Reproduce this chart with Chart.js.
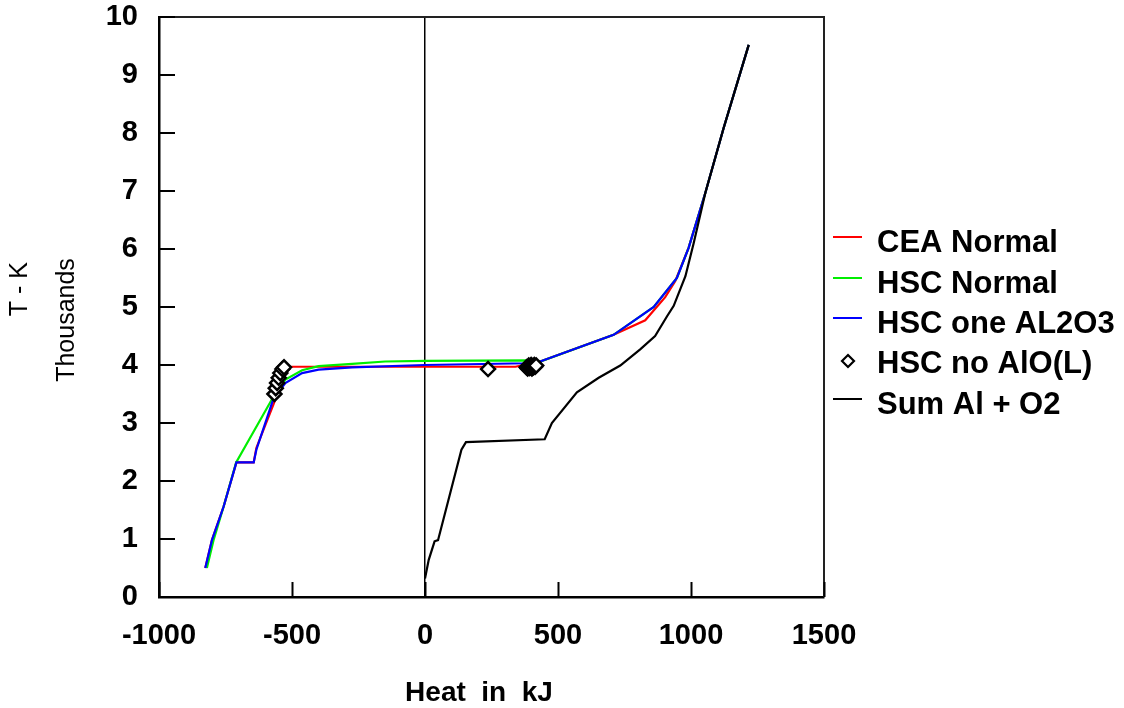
<!DOCTYPE html>
<html>
<head>
<meta charset="utf-8">
<script src="https://cdn.jsdelivr.net/npm/chart.js@4/dist/chart.umd.min.js"></script>
<style>
  html, body { margin: 0; padding: 0; background: #fff; }
  #wrap { width: 1124px; height: 708px; }
</style>
</head>
<body>
<div id="wrap"><canvas id="c" width="1124" height="708"></canvas></div>
<script>
// Heat (kJ) vs temperature (thousands of K) for Al + O2 combustion models
const ceaHeat   = [-826, -801, -757, -709, -644, -634, -563, -531, -521, -500, 340, 433, 709, 828, 903, 941, 991, 1054, 1123, 1217];
const ceaTemp   = [0.5, 0.98, 1.56, 2.32, 2.32, 2.57, 3.40, 3.72, 3.95, 3.97, 3.97, 4.06, 4.52, 4.77, 5.17, 5.45, 6.02, 6.97, 8.09, 9.52];

const hscHeat   = [-820, -795, -757, -710, -569, -525, -462, -400, -274, -150, 0, 390, 433, 709, 860, 947, 991, 1054, 1123, 1217];
const hscTemp   = [0.5, 0.98, 1.56, 2.32, 3.46, 3.75, 3.91, 3.98, 4.02, 4.06, 4.07, 4.08, 4.06, 4.52, 5.0, 5.5, 6.02, 6.97, 8.09, 9.52];

const oneHeat   = [-826, -801, -757, -709, -644, -634, -569, -525, -462, -400, -274, 0, 380, 433, 709, 860, 947, 991, 1054, 1123, 1217];
const oneTemp   = [0.5, 0.98, 1.56, 2.32, 2.32, 2.54, 3.43, 3.69, 3.86, 3.92, 3.96, 4.0, 4.03, 4.06, 4.52, 5.0, 5.5, 6.02, 6.97, 8.09, 9.52];

const noAloHeat = [-566, -561, -556, -550, -544, -536, -530, 237,
                   382, 386, 390, 393, 396, 399, 402, 405, 408, 411, 414, 418];
const noAloTemp = [3.5, 3.6, 3.69, 3.78, 3.86, 3.93, 3.96, 3.93,
                   3.96, 3.94, 3.99, 3.95, 3.97, 4.0, 3.94, 3.98, 3.96, 4.0, 3.97, 3.99];

const sumHeat   = [0, 14, 36, 49, 137, 154, 450, 477, 571, 653, 734, 809, 865, 910, 935, 979, 1010, 1054, 1123, 1217];
const sumTemp   = [0.32, 0.64, 0.96, 0.98, 2.54, 2.67, 2.72, 3.0, 3.53, 3.78, 3.99, 4.27, 4.5, 4.84, 5.02, 5.53, 6.1, 6.97, 8.09, 9.52];

const xTickValues = [-1000, -500, 0, 500, 1000, 1500];
const yTickValues = [0, 1, 2, 3, 4, 5, 6, 7, 8, 9, 10];

const seriesNames = ['CEA Normal', 'HSC Normal', 'HSC one AL2O3', 'HSC no AlO(L)', 'Sum Al + O2'];

function pts(xs, ys) { return xs.map((x, i) => ({ x: x, y: ys[i] })); }

const FONT = '"Liberation Sans", Arial, sans-serif';

const lineDefaults = { showLine: true, pointRadius: 0, borderWidth: 2.2, fill: false, tension: 0 };

const datasets = [
  Object.assign({ label: seriesNames[0], data: pts(ceaHeat, ceaTemp), borderColor: '#ff0000', order: 4, legendIndex: 0 }, lineDefaults),
  Object.assign({ label: seriesNames[1], data: pts(hscHeat, hscTemp), borderColor: '#00ee00', order: 3, legendIndex: 1 }, lineDefaults),
  Object.assign({ label: seriesNames[2], data: pts(oneHeat, oneTemp), borderColor: '#0000ff', order: 2, legendIndex: 2 }, lineDefaults),
  { label: seriesNames[3], data: pts(noAloHeat, noAloTemp), showLine: false, pointStyle: 'rectRot',
    pointRadius: 7, pointBorderWidth: 2.5, pointBorderColor: '#000', pointBackgroundColor: '#fff',
    borderColor: '#000', backgroundColor: '#fff', order: 0, legendIndex: 3 },
  Object.assign({ label: seriesNames[4], data: pts(sumHeat, sumTemp), borderColor: '#000000', order: 1, legendIndex: 4 }, lineDefaults)
];

// Frame, inward tick marks, axis titles and the legend
const decorations = {
  id: 'decorations',
  afterDraw(chart) {
    const ctx = chart.ctx;
    const a = chart.chartArea;
    const xs = chart.scales.x, ys = chart.scales.y;
    ctx.save();

    // top and right frame
    ctx.strokeStyle = '#222';
    ctx.lineWidth = 2;
    ctx.beginPath();
    ctx.moveTo(a.left, a.top); ctx.lineTo(a.right, a.top); ctx.lineTo(a.right, a.bottom);
    ctx.stroke();

    // inward ticks
    ctx.strokeStyle = '#000';
    ctx.lineWidth = 2;
    ctx.beginPath();
    xTickValues.forEach(v => {
      const px = Math.round(xs.getPixelForValue(v)) + 0.5;
      ctx.moveTo(px, a.bottom); ctx.lineTo(px, a.bottom - 15);
    });
    yTickValues.forEach(v => {
      const py = Math.round(ys.getPixelForValue(v));
      ctx.moveTo(a.left, py); ctx.lineTo(a.left + 16, py);
    });
    ctx.stroke();

    // axis titles
    ctx.fillStyle = '#000';
    ctx.font = 'bold 28px ' + FONT;
    ctx.textAlign = 'center';
    ctx.textBaseline = 'middle';
    ctx.fillText('Heat  in  kJ', 479, 693);

    ctx.font = '25px ' + FONT;
    ctx.save();
    ctx.translate(20, 262);
    ctx.rotate(-Math.PI / 2);
    ctx.textAlign = 'right';
    ctx.fillText('T - K', 0, 0);
    ctx.restore();
    ctx.save();
    ctx.translate(67, 320);
    ctx.rotate(-Math.PI / 2);
    ctx.textAlign = 'center';
    ctx.fillText('Thousands', 0, 0);
    ctx.restore();

    // legend
    const rowY = [243, 284, 324, 364, 405];
    ctx.font = 'bold 31px ' + FONT;
    ctx.textAlign = 'left';
    ctx.textBaseline = 'middle';
    chart.data.datasets.forEach(ds => {
      const i = ds.legendIndex;
      const y = rowY[i];
      if (ds.showLine === false) {
        const cx = 848, cy = y - 3, r = 6;
        ctx.beginPath();
        ctx.moveTo(cx, cy - r); ctx.lineTo(cx + r, cy); ctx.lineTo(cx, cy + r); ctx.lineTo(cx - r, cy); ctx.closePath();
        ctx.fillStyle = '#fff'; ctx.fill();
        ctx.strokeStyle = '#000'; ctx.lineWidth = 2.2; ctx.stroke();
      } else {
        ctx.strokeStyle = ds.borderColor;
        ctx.lineWidth = 2;
        ctx.beginPath();
        ctx.moveTo(833, y - 6); ctx.lineTo(862, y - 6);
        ctx.stroke();
      }
      ctx.fillStyle = '#000';
      ctx.fillText(ds.label, 877, y);
    });
    ctx.restore();
  }
};

new Chart(document.getElementById('c'), {
  type: 'scatter',
  data: { datasets: datasets },
  options: {
    responsive: false,
    animation: false,
    devicePixelRatio: 1,
    layout: { padding: { top: 17, right: 300, left: 0, bottom: 0 } },
    plugins: { legend: { display: false }, tooltip: { enabled: false } },
    scales: {
      x: {
        type: 'linear', min: -1000, max: 1500,
        afterFit(s) { s.height = 111; s.paddingLeft = 0; s.paddingRight = 0; },
        afterBuildTicks(s) { s.ticks = xTickValues.map(v => ({ value: v })); },
        grid: {
          drawTicks: false,
          lineWidth: 1.5,
          color: c => (c.tick && c.tick.value === 0 ? '#000' : 'rgba(0,0,0,0)')
        },
        border: { display: true, color: '#000', width: 2.5 },
        ticks: { padding: 22, color: '#000', callback: v => String(v),
                 font: { family: FONT, size: 29, weight: 'bold' } }
      },
      y: {
        type: 'linear', min: 0, max: 10,
        afterFit(s) { s.width = 159; s.paddingTop = 0; s.paddingBottom = 0; },
        afterBuildTicks(s) { s.ticks = yTickValues.map(v => ({ value: v })); },
        grid: { display: false, drawTicks: false },
        border: { display: true, color: '#000', width: 2.5 },
        ticks: { padding: 21, color: '#000', callback: v => String(v),
                 font: { family: FONT, size: 29, weight: 'bold', lineHeight: 1.0 } }
      }
    }
  },
  plugins: [decorations]
});
</script>
</body>
</html>
